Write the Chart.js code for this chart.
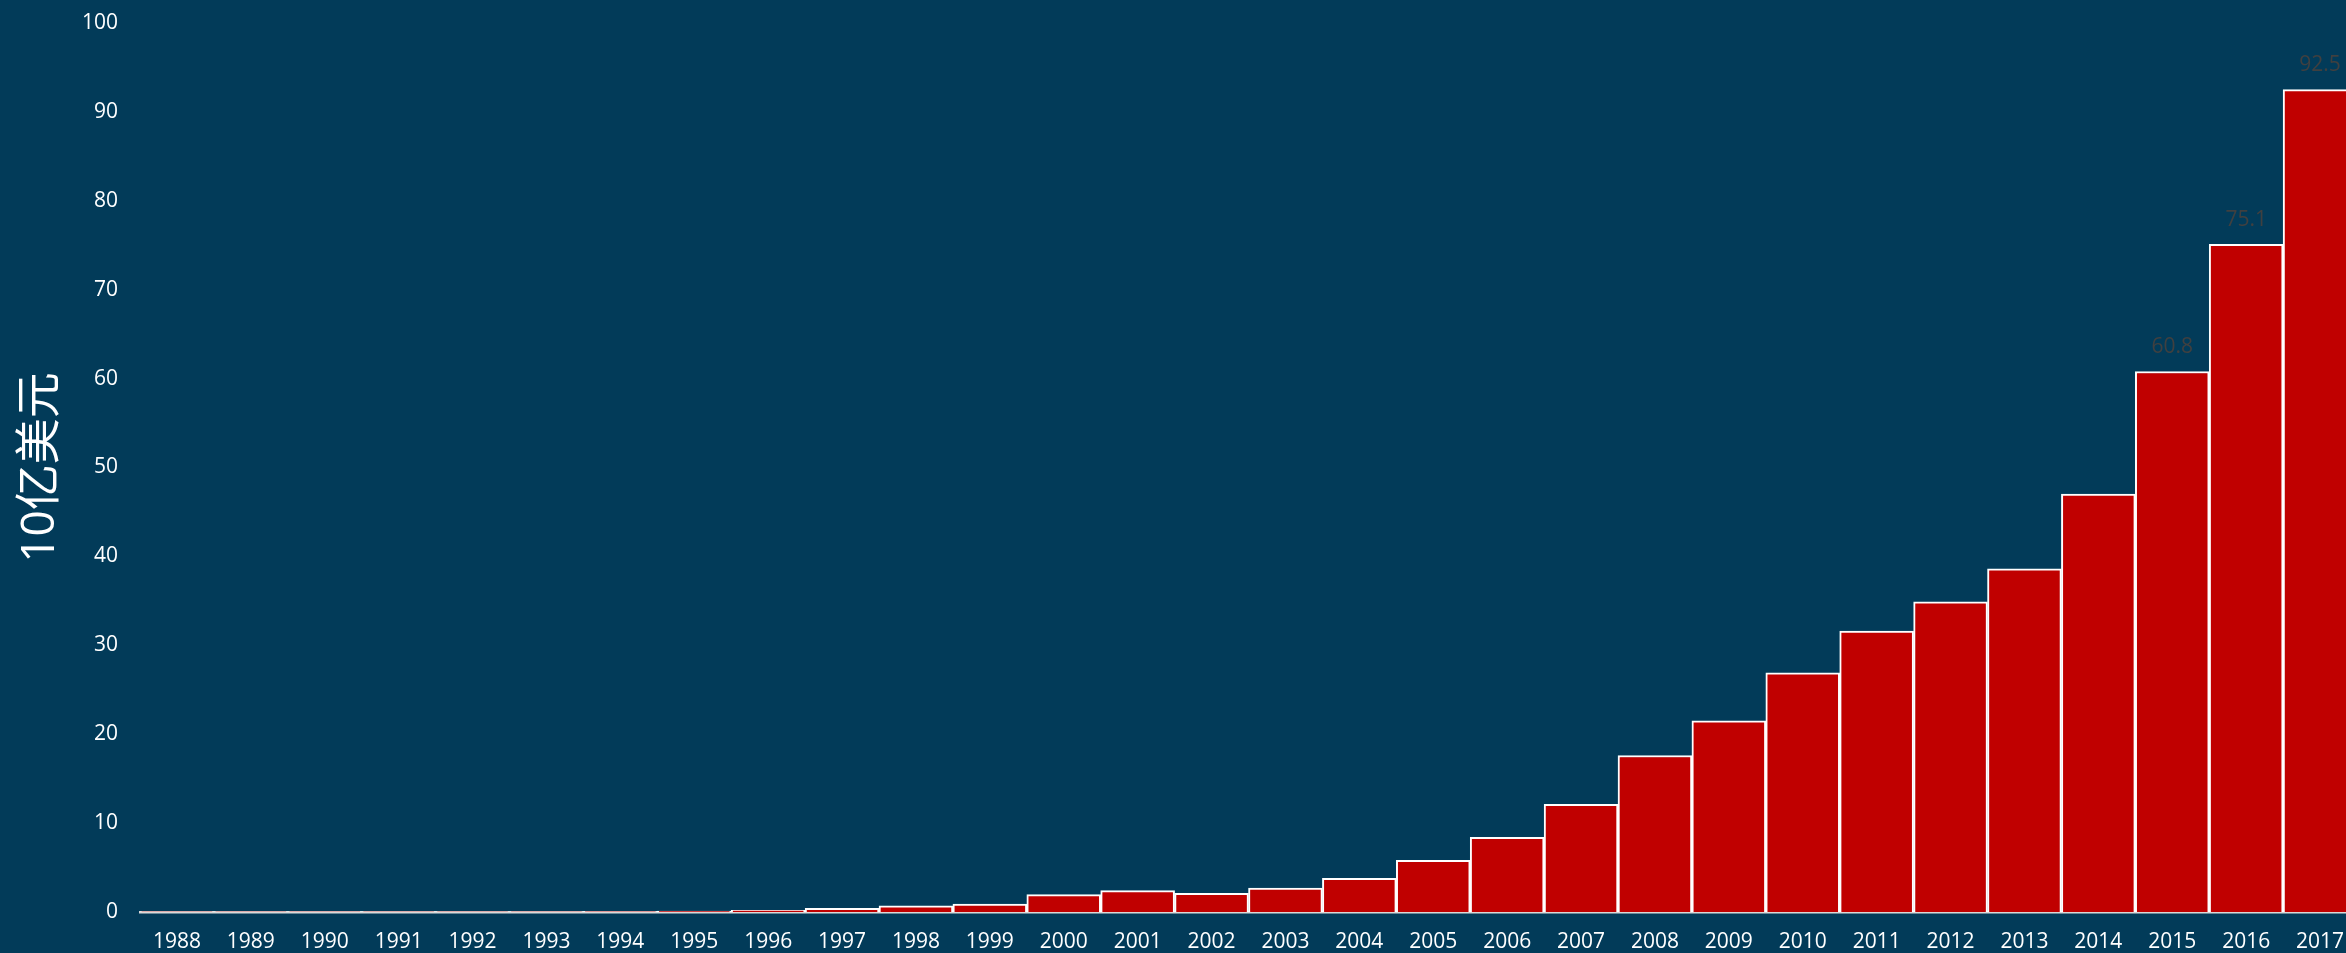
<!DOCTYPE html>
<html>
<head>
<meta charset="utf-8">
<script src="https://cdn.jsdelivr.net/npm/chart.js@4"></script>
<style>
  html, body { margin: 0; padding: 0; background: #023b59; overflow: hidden; }
  #wrap { width: 2360px; height: 953px; position: relative; }
</style>
</head>
<body>
<div id="wrap"><canvas id="c"></canvas></div>
<script>
// 年份
const years = ['1988', '1989', '1990', '1991', '1992', '1993', '1994', '1995', '1996', '1997',
    '1998', '1999', '2000', '2001', '2002', '2003', '2004', '2005', '2006', '2007',
    '2008', '2009', '2010', '2011', '2012', '2013', '2014', '2015', '2016', '2017']
// 数值（10亿美元）
const values = [0.02, 0.02, 0.02, 0.02, 0.03, 0.03, 0.05, 0.1, 0.2, 0.4,
    0.7, 0.9, 1.95, 2.4, 2.1, 2.7, 3.8, 5.8, 8.4, 12.1,
    17.6, 21.5, 26.9, 31.6, 34.9, 38.6, 47.0, 60.8, 75.1, 92.5]
// 标注数值的年份
const labelled = ['2015', '2016', '2017']
// y 轴刻度
const yTicks = [0, 10, 20, 30, 40, 50, 60, 70, 80, 90, 100]

const font = '"Open Sans", "Noto Sans CJK SC", sans-serif'

const valueLabels = { // 柱顶数值
    id: 'valueLabels',
    afterDatasetsDraw(chart) {
        const ctx = chart.ctx
        const meta = chart.getDatasetMeta(0)
        ctx.save()
        ctx.fillStyle = '#404040'
        ctx.font = '21px ' + font
        ctx.textAlign = 'center'
        ctx.textBaseline = 'bottom'
        meta.data.forEach((bar, i) => {
            if (labelled.includes(years[i])) {
                ctx.fillText(values[i].toFixed(1), bar.x, bar.y - 14)
            }
        })
        ctx.restore()
    }
}

new Chart(document.getElementById('c'), {
    type: 'bar',
    data: {
        labels: years,
        datasets: [{
            data: values,
            backgroundColor: '#c00000',
            borderColor: '#ffffff',
            borderWidth: 2,
            borderSkipped: 'bottom',
            barPercentage: 1,
            categoryPercentage: 1
        }]
    },
    options: {
        responsive: true,
        maintainAspectRatio: false,
        animation: false,
        layout: {padding: {top: 23, right: 3, left: 0, bottom: 0}},
        plugins: {legend: {display: false}, tooltip: {enabled: false}},
        scales: {
            x: {
                z: 1,
                grid: {display: false, drawTicks: false},
                border: {display: true, color: '#d9d9d9', width: 2.5},
                ticks: {color: '#ffffff', font: {family: font, size: 21}, padding: 17, maxRotation: 0, autoSkip: false},
                afterFit(scale) {
                    scale.height = 41
                    scale.paddingLeft = 0
                    scale.paddingRight = 0
                }
            },
            y: {
                min: 0,
                max: 100,
                grid: {display: false, drawTicks: false},
                border: {display: false},
                afterBuildTicks(scale) { scale.ticks = yTicks.map(v => ({value: v})) },
                ticks: {color: '#ffffff', font: {family: font, size: 21}, padding: 22},
                title: {
                    display: true,
                    text: '10亿美元',
                    color: '#ffffff',
                    font: {family: font, size: 46},
                    padding: {top: 13, bottom: 0}
                },
                afterFit(scale) {
                    scale.width = 140
                    scale.paddingTop = 0
                    scale.paddingBottom = 0
                }
            }
        }
    },
    plugins: [valueLabels]
})
</script>
</body>
</html>
